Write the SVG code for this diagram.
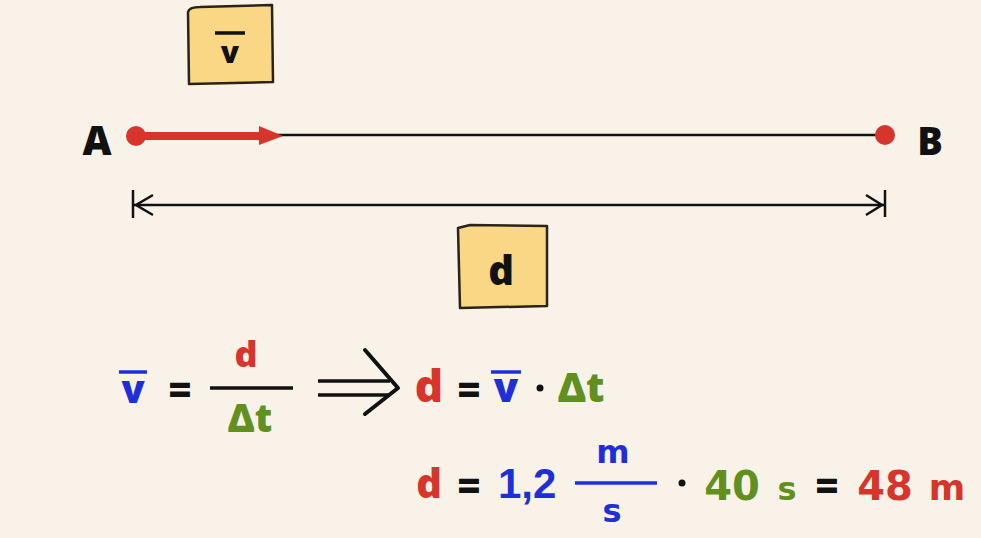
<svg xmlns="http://www.w3.org/2000/svg" width="981" height="538" viewBox="0 0 981 538">
<defs>
<style>
.t{font-family:"Open Sans","Liberation Sans",sans-serif;font-weight:800;text-anchor:middle}
.n{font-family:"DejaVu Sans","Liberation Sans",sans-serif;font-weight:bold;text-anchor:middle}
.k{fill:#111}
.r{fill:#d7352b}
.b{fill:#1f2fd8}
.g{fill:#62901f}
.box{fill:#f9d784;stroke:#2a2418;stroke-width:2.5;stroke-linejoin:round}
.ln{stroke:#111;stroke-width:2.5;fill:none}
</style>
</defs>
<rect width="981" height="538" fill="#f8f2e8"/>
<g id="vbox">
<path class="box" d="M188,12 Q189,7 200,7 L272,5 L273,82 L189,84 Z"/>
<line x1="215" y1="33" x2="245" y2="33" stroke="#111" stroke-width="3.5"/>
<text class="t k" x="230" y="63" font-size="30">v</text>
</g>
<g id="connectors">
<line class="ln" x1="140" y1="135" x2="883" y2="135"/>
<line x1="136" y1="136" x2="264" y2="136" stroke="#d7352b" stroke-width="8"/>
<path d="M259,126 L283,136 L259,145 Z" fill="#d7352b"/>
<line class="ln" x1="134" y1="205" x2="884" y2="205"/>
<line class="ln" x1="133" y1="190" x2="133" y2="218"/>
<polyline class="ln" points="153,195 136,205 153,215"/>
<line class="ln" x1="885" y1="190" x2="885" y2="217"/>
<polyline class="ln" points="866,195 882,205 866,215"/>
</g>
<g id="A">
<circle cx="136" cy="136" r="10" fill="#d7352b"/>
<text class="t k" x="97" y="155" font-size="40">A</text>
</g>
<g id="B">
<circle cx="885" cy="135" r="10" fill="#d7352b"/>
<text class="t k" x="930" y="155" font-size="38">B</text>
</g>
<g id="dbox">
<path class="box" d="M458,228 L470,225 L547,226 L547,306 L460,308 Z"/>
<text class="t k" x="501" y="285" font-size="40">d</text>
</g>
<g id="formula1">
<line x1="119" y1="372" x2="147" y2="372" stroke="#1f2fd8" stroke-width="3.5"/>
<text class="t b" x="133" y="403" font-size="38">v</text>
<text class="t k" x="180" y="404" font-size="40">=</text>
<text class="t r" x="246" y="367" font-size="36">d</text>
<line x1="210" y1="388" x2="293" y2="388" stroke="#111" stroke-width="3.5"/>
<text class="t g" x="250" y="432" font-size="38">Δt</text>
<line x1="318" y1="381" x2="390" y2="381" stroke="#111" stroke-width="3.5"/>
<line x1="318" y1="395" x2="390" y2="395" stroke="#111" stroke-width="3.5"/>
<polyline points="365,350 398,388 365,414" fill="none" stroke="#111" stroke-width="4" stroke-linejoin="round" stroke-linecap="round"/>
<text class="t r" x="429" y="402" font-size="44">d</text>
<text class="t k" x="469" y="404" font-size="40">=</text>
<line x1="491" y1="372" x2="521" y2="372" stroke="#1f2fd8" stroke-width="3.5"/>
<text class="t b" x="506" y="402" font-size="40">v</text>
<circle cx="540" cy="388" r="3.5" fill="#111"/>
<text class="t g" x="581" y="402" font-size="40">Δt</text>
</g>
<g id="formula2">
<text class="t r" x="429" y="498" font-size="40">d</text>
<text class="t k" x="469" y="500" font-size="40">=</text>
<text class="b" x="498" y="498" font-size="42" font-family="Liberation Sans,sans-serif" font-weight="bold">1,2</text>
<text class="n b" x="613" y="463" font-size="32">m</text>
<line x1="575" y1="483" x2="657" y2="483" stroke="#1f2fd8" stroke-width="3.5"/>
<text class="n b" x="612" y="522" font-size="32">s</text>
<circle cx="682" cy="483" r="3.5" fill="#111"/>
<text class="n g" x="732" y="500" font-size="40">40</text>
<text class="n g" x="787" y="500" font-size="32">s</text>
<text class="t k" x="827" y="500" font-size="40">=</text>
<text class="n r" x="885" y="500" font-size="40">48</text>
<text class="n r" x="947" y="500" font-size="35">m</text>
</g>
</svg>
